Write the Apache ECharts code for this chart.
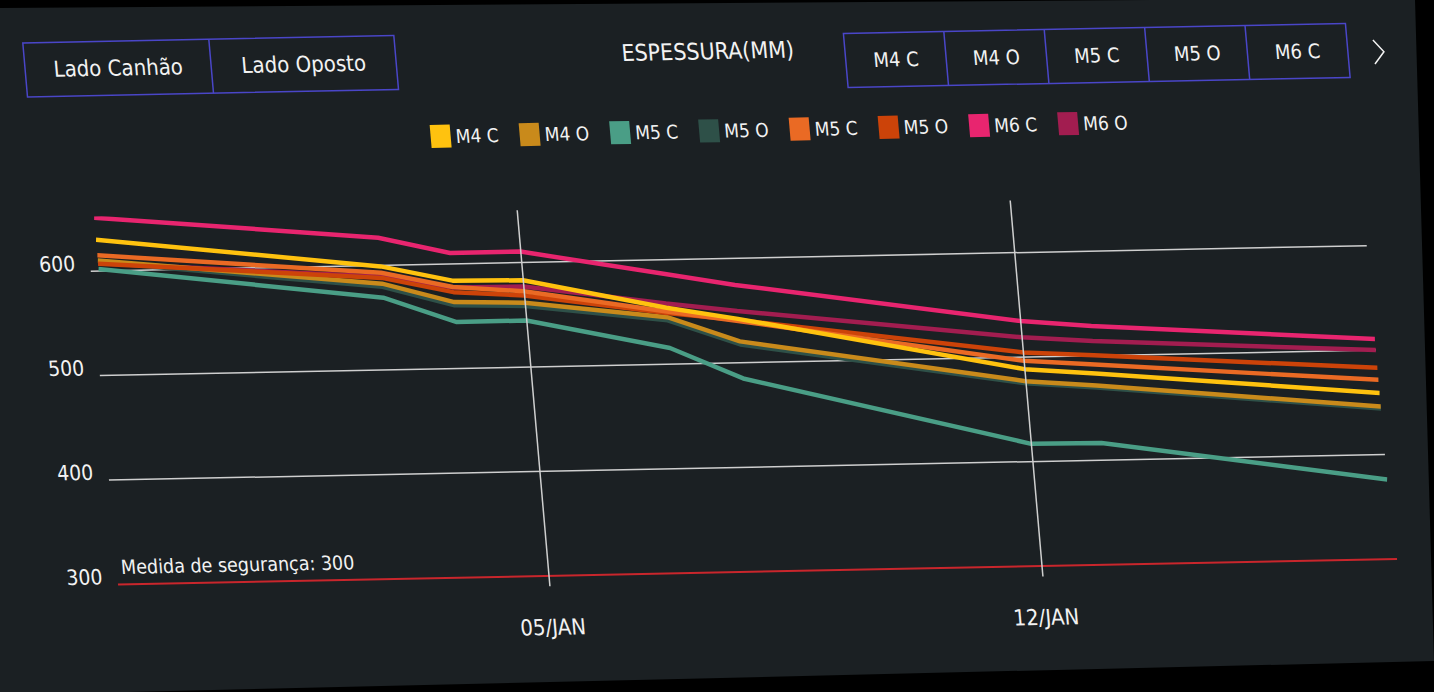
<!DOCTYPE html>
<html><head><meta charset="utf-8">
<script src="https://cdn.jsdelivr.net/npm/echarts@6/dist/echarts.min.js"></script>
<style>
html,body{margin:0;padding:0;background:#000;overflow:hidden;width:1434px;height:692px}
#panel{position:absolute;left:0;top:0;width:1434px;height:692px;background:#1b2023;clip-path:polygon(0px 8px,1150px 0px,1415px 0px,1434px 661px,0px 695px)}
#wrap{position:absolute;left:0;top:0;width:1434px;height:692px;transform-origin:700px 400px;transform:matrix(1,-0.02,0.087,1,0,0)}
#chart{width:1434px;height:692px}
</style></head>
<body><div id="panel"></div><div id="wrap"><div id="chart"></div></div>
<script>
// ---- data ----
const axisDays = ['30/DEC','31/DEC','01/JAN','02/JAN','03/JAN','04/JAN','05/JAN','06/JAN','07/JAN','08/JAN','09/JAN','10/JAN','11/JAN','12/JAN','13/JAN','14/JAN','15/JAN','16/JAN','17/JAN'];
const measureDates = ['30/DEC','03/JAN','04/JAN','05/JAN','07/JAN','08/JAN','12/JAN','13/JAN','17/JAN'];
const m4c  = [630, 599, 584, 583, 554, 542, 488.5, 483, 459];
const m4o  = [610, 582.5, 563.5, 561.5, 545, 520.5, 477, 471.5, 446];
const m5c  = [602, 569, 544.5, 544.5, 515.5, 485, 417, 416.5, 376];
const m5o  = [608.5, 579.5, 560.5, 558.5, 542, 517.5, 475, 469.5, 444];
const m5c2 = [615, 593, 578, 572.5, 550.5, 540, 496.5, 491.5, 471.5];
const m5o2 = [607, 588, 573, 568.5, 549, 541, 504.5, 500.5, 483];
const m6c  = [651, 626.5, 610.5, 610.5, 586.5, 574.5, 534.5, 528.5, 510.5];
const m6o  = [607.5, 589, 577.5, 577, 558, 549.5, 519, 514, 500];
const yTicks = [300, 400, 500, 600];
const gridLevels = [400, 500, 600];
const safetyLevel = 300;
const safetyText = 'Medida de segurança: ';
const markedDays = ['05/JAN', '12/JAN'];
const legendKeys = ['M4 C','M4 O','M5 C','M5 O','M5 C #2','M5 O #2','M6 C','M6 O'];
const tabLabels = ['M4 C','M4 O','M5 C','M5 O','M6 C'];
const sideLabels = ['Lado Canhão','Lado Oposto'];
const titleText = 'ESPESSURA(MM)';

// ---- styling ----
const FONT = "'Liberation Sans Narrow', 'DejaVu Sans Condensed', 'Roboto', sans-serif";
const TXT = '#f2f2f2';
const BOX = '#4a46c8';
const GRIDC = '#cfcfcf';
const seriesDefs = [
  {key:'M5 O',    color:'#2e5048', vals:m5o},
  {key:'M6 O',    color:'#a21d50', vals:m6o},
  {key:'M4 O',    color:'#c98a1b', vals:m4o},
  {key:'M5 C',    color:'#4a9e86', vals:m5c},
  {key:'M5 O #2', color:'#cc4309', vals:m5o2},
  {key:'M5 C #2', color:'#ea6a24', vals:m5c2},
  {key:'M6 C',    color:'#e8256f', vals:m6c},
  {key:'M4 C',    color:'#ffc20f', vals:m4c}
];

const series = seriesDefs.map((s, i) => ({
  type:'line', name:s.key, symbol:'none', showSymbol:false, animation:false,
  data: measureDates.map((d, j) => [d, s.vals[j]]),
  itemStyle:{color:s.color}, lineStyle:{color:s.color, width:4.5},
  markLine: i === 0 ? {silent:true, symbol:'none', animation:false,
    data: markedDays.map(d => ({xAxis:d, lineStyle:{color:GRIDC, width:1.5, type:'solid'}, label:{show:false}}))} : undefined
}));

// graphic: tab boxes and title
const graphic = [];
const txt = (x, y, t, size, align) => ({type:'text', x, y, silent:true,
  style:{text:t, fill:TXT, fontSize:size, fontFamily:FONT, align:align||'center', verticalAlign:'middle',
         textAlign:align||'center', textVerticalAlign:'middle'}});
graphic.push({type:'rect', shape:{x:55, y:30, width:371, height:54}, style:{fill:'none', stroke:BOX, lineWidth:1.5}});
graphic.push({type:'line', shape:{x1:241, y1:30, x2:241, y2:84}, style:{stroke:BOX, lineWidth:1.5}});
graphic.push(txt(148, 57, sideLabels[0], 22));
graphic.push(txt(333.5, 57, sideLabels[1], 22));
graphic.push(txt(738, 52, titleText, 23));
const rx = 875, rw = 502, ry = 37, rh = 54, cw = rw / tabLabels.length;
graphic.push({type:'rect', shape:{x:rx, y:ry, width:rw, height:rh}, style:{fill:'none', stroke:BOX, lineWidth:1.5}});
tabLabels.forEach((t, i) => {
  if (i > 0) graphic.push({type:'line', shape:{x1:rx + i*cw, y1:ry, x2:rx + i*cw, y2:ry+rh}, style:{stroke:BOX, lineWidth:1.5}});
  graphic.push(txt(rx + (i + 0.5)*cw, ry + rh/2, t, 20));
});
graphic.push({type:'polyline', shape:{points:[[1403,54],[1413,66],[1403,78]]}, style:{stroke:TXT, lineWidth:1.5, fill:'none'}});

const chart = echarts.init(document.getElementById('chart'), null, {renderer:'svg'});
chart.setOption({
  backgroundColor:'transparent',
  animation:false,
  textStyle:{fontFamily:FONT},
  legend:{left:449, top:115, icon:'rect', itemWidth:20, itemHeight:23, itemGap:21, selectedMode:false,
    data:legendKeys, formatter: n => n.replace(' #2',''),
    textStyle:{color:TXT, fontSize:19, fontFamily:FONT}},
  grid:{left:111, right:55, top:207, height:376, outerBoundsMode:'none', containLabel:false},
  xAxis:{type:'category', data:axisDays, boundaryGap:false,
    axisLine:{show:false}, axisTick:{show:false}, splitLine:{show:false},
    axisLabel:{interval:(i, v) => markedDays.includes(v), color:TXT, fontSize:22, fontFamily:FONT, margin:30}},
  yAxis:{type:'value', min:290, max:650, interval:10,
    axisLine:{show:false}, axisTick:{show:false}, splitLine:{show:false},
    axisLabel:{color:TXT, fontSize:21, fontFamily:FONT, margin:23, verticalAlign:'bottom', lineHeight:16,
      formatter: v => yTicks.includes(Math.round(v)) ? String(Math.round(v)) : ''}},
  graphic: graphic,
  series: series
});

// horizontal reference lines from the library's own scales, extended slightly left of the plot
const xL = chart.convertToPixel({xAxisIndex:0}, axisDays[0]);
const xR = chart.convertToPixel({xAxisIndex:0}, axisDays[axisDays.length - 1]);
const ext = 8;
gridLevels.forEach(v => {
  const y = chart.convertToPixel({yAxisIndex:0}, v);
  graphic.push({type:'line', z:0, silent:true, shape:{x1:xL - ext, y1:y, x2:xR, y2:y}, style:{stroke:GRIDC, lineWidth:1.5}});
});
const yS = chart.convertToPixel({yAxisIndex:0}, safetyLevel);
graphic.push({type:'line', z:0, silent:true, shape:{x1:xL - ext, y1:yS, x2:xR + 3, y2:yS}, style:{stroke:'#c9262c', lineWidth:2}});
graphic.push({type:'text', silent:true, x:xL - 3.5, y:yS - 7,
  style:{text:safetyText + safetyLevel, fill:TXT, fontSize:19.5, fontFamily:FONT, align:'left', verticalAlign:'bottom', textAlign:'left', textVerticalAlign:'bottom'}});
chart.setOption({graphic: graphic});
</script>
</body></html>
